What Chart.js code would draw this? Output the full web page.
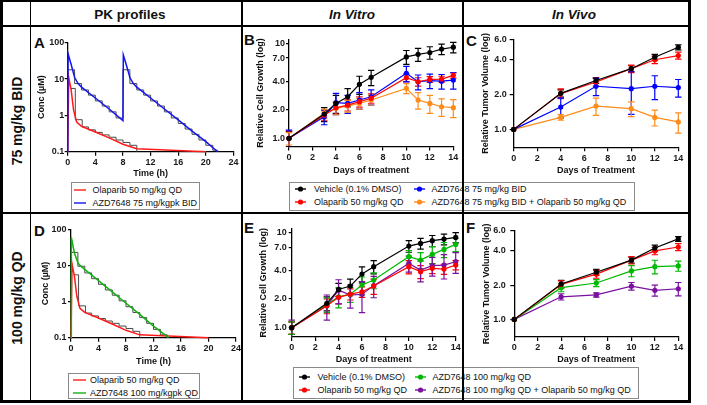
<!DOCTYPE html>
<html>
<head>
<meta charset="utf-8">
<script src="https://cdn.jsdelivr.net/npm/chart.js@4.4.0/dist/chart.umd.min.js"></script>
<style>
body { margin: 0; width: 707px; height: 405px; background: #fff; position: relative; overflow: hidden; font-family: Arial, "Liberation Sans", sans-serif; color: #111; }
canvas { position: absolute; }
.ln { position: absolute; background: #000; z-index: 5; }
.hdr { position: absolute; font-weight: bold; font-size: 13.5px; line-height: 14px; transform: translateX(-50%); white-space: nowrap; }
.rowlab { position: absolute; font-weight: bold; font-size: 14px; line-height: 16px; white-space: nowrap; transform: translate(-50%, -50%) rotate(-90deg); }
.lab { position: absolute; font-weight: bold; font-size: 15px; line-height: 15px; }
.leg { position: absolute; border: 1px solid #8a8a8a; box-sizing: border-box; background: #fff; }
.item { position: absolute; white-space: nowrap; font-size: 9px; line-height: 12px; }
</style>
</head>
<body>

<div class="hdr" style="left:130px;top:8px">PK profiles</div>
<div class="hdr" style="left:352px;top:7.5px;font-style:italic">In Vitro</div>
<div class="hdr" style="left:574px;top:7.5px;font-style:italic">In Vivo</div>
<div class="rowlab" style="left:17px;top:121px">75 mg/kg BID</div>
<div class="rowlab" style="left:17px;top:298px">100 mg/kg QD</div>

<div class="lab" style="left:34px;top:35px">A</div>
<div class="lab" style="left:244px;top:31.5px">B</div>
<div class="lab" style="left:466px;top:33px">C</div>
<div class="lab" style="left:34px;top:223px">D</div>
<div class="lab" style="left:244px;top:220px">E</div>
<div class="lab" style="left:466px;top:220px">F</div>

<canvas id="chartA"></canvas>
<canvas id="chartB"></canvas>
<canvas id="chartC"></canvas>
<canvas id="chartD"></canvas>
<canvas id="chartE"></canvas>
<canvas id="chartF"></canvas>

<div class="leg" style="left:71px;top:182px;width:129px;height:28px"></div>
<div class="leg" style="left:68px;top:373px;width:132px;height:26px"></div>
<div class="leg" style="left:289px;top:181.5px;width:346px;height:29px"></div>
<div class="leg" style="left:292.5px;top:367px;width:346px;height:32px"></div>

<!-- frame -->
<div class="ln" style="left:0;top:0;width:691px;height:2px"></div>
<div class="ln" style="left:0;top:400px;width:691px;height:3px"></div>
<div class="ln" style="left:0;top:0;width:2.5px;height:403px"></div>
<div class="ln" style="left:688px;top:0;width:3px;height:403px"></div>
<div class="ln" style="left:0;top:24.5px;width:691px;height:2px"></div>
<div class="ln" style="left:0;top:212px;width:691px;height:1.5px"></div>
<div class="ln" style="left:29.5px;top:0;width:1.5px;height:403px"></div>
<div class="ln" style="left:241px;top:0;width:1.5px;height:403px"></div>
<div class="ln" style="left:462px;top:0;width:1.5px;height:403px"></div>

<script>
// ---- PK profiles (conc in uM vs time in h)
const olaparibTime = [0, 0.15, 0.5, 0.85, 1.3, 2, 4, 6, 8, 10, 20];
const olaparibConc = [0.1, 11, 5, 1.4, 0.65, 0.5, 0.35, 0.24, 0.16, 0.12, 0.1];
const olaparibStepTime = [0.4, 1.1, 2.1, 3, 4, 5, 6, 7, 8, 9, 10];
const olaparibStepConc = [5.5, 0.76, 0.48, 0.4, 0.34, 0.29, 0.25, 0.21, 0.18, 0.15, 0.1];

const azd75Time = [0, 0.05, 0.5, 1, 1.5, 2, 4, 6, 8, 8.05, 8.5, 9, 9.5, 10, 12, 14, 16, 18, 20, 21.7];
const azd75Conc = [0.1, 50, 25, 11, 7.5, 6.0, 3.0, 1.5, 0.72, 46, 24, 11, 7.5, 6.0, 3.0, 1.5, 0.75, 0.37, 0.19, 0.1];
const azd75StepTime = [0, 1, 2, 3, 4, 5, 6, 7, 8, 9, 10, 11, 12, 13, 14, 15, 16, 17, 18, 19, 20, 21, 21.7];
const azd75StepConc = [18, 7.5, 5, 3.6, 2.5, 1.8, 1.25, 0.85, 18, 7.5, 5, 3.6, 2.5, 1.8, 1.25, 0.85, 0.6, 0.42, 0.3, 0.21, 0.15, 0.11, 0.1];

const azd100Time = [0, 0.05, 0.5, 1, 1.3, 2, 4, 6, 8, 10, 12, 14.2];
const azd100Conc = [0.1, 60, 22, 12, 10, 7.8, 3.8, 1.85, 0.9, 0.44, 0.21, 0.1];
const azd100StepTime = [0, 1, 2, 3, 4, 5, 6, 7, 8, 9, 10, 11, 12, 13, 14];
const azd100StepConc = [23, 9.5, 6.2, 4.3, 3.0, 2.1, 1.5, 1.05, 0.72, 0.5, 0.36, 0.25, 0.17, 0.12, 0.1];

const pkTicks = [0.1, 1, 10, 100];
const pkTickLabels = ['0.1', '1', '10', '100'];

// ---- In vitro (relative cell growth)
const daysVitro = [0, 3, 4, 5, 6, 7, 10, 11, 12, 13, 14];
const vitroB_vehicle  = [1.0, 1.8, 2.33, 2.74, 3.7, 4.39, 7.2, 7.66, 8.0, 8.7, 9.1];
const vitroB_olaparib = [1.0, 1.75, 2.1, 2.24, 2.43, 2.64, 4.35, 3.94, 4.17, 4.2, 4.6];
const vitroB_azd      = [1.0, 1.69, 2.37, 2.33, 2.53, 2.74, 4.83, 3.94, 4.04, 4.0, 4.1];
const vitroB_combo    = [1.0, 1.83, 2.07, 2.19, 2.33, 2.53, 3.36, 2.53, 2.33, 2.15, 2.1];
const errB_vehicle  = [0.18, 0.3, 0.5, 0.6, 0.8, 0.8, 1.2, 1.2, 1.2, 1.1, 1.15];
const errB_olaparib = [0.2, 0.2, 0.3, 0.3, 0.3, 0.3, 0.4, 0.4, 0.3, 0.3, 0.3];
const errB_azd      = [0.22, 0.3, 0.6, 0.5, 0.5, 0.5, 0.9, 0.7, 0.7, 0.7, 0.8];
const errB_combo    = [0.15, 0.2, 0.3, 0.3, 0.3, 0.3, 0.4, 0.5, 0.5, 0.45, 0.45];

const vitroE_vehicle  = [1.0, 1.8, 2.52, 2.73, 3.65, 4.36, 7.18, 7.66, 8.17, 8.5, 8.85];
const vitroE_olaparib = [1.0, 1.7, 2.08, 2.25, 2.38, 2.73, 4.36, 3.87, 4.19, 4.12, 4.54];
const vitroE_azd      = [1.0, 1.75, 2.11, 2.24, 2.8, 3.16, 5.55, 5.12, 5.87, 6.62, 7.47];
const vitroE_combo    = [1.0, 1.7, 2.48, 2.2, 2.24, 2.76, 4.72, 4.02, 4.47, 4.54, 4.92];
const errE_vehicle  = [0.15, 0.3, 0.4, 0.5, 0.7, 0.7, 1.0, 1.0, 1.1, 1.1, 1.1];
const errE_olaparib = [0.15, 0.3, 0.3, 0.3, 0.3, 0.5, 0.7, 0.6, 0.5, 0.5, 0.5];
const errE_azd      = [0.15, 0.3, 0.5, 0.4, 0.6, 0.6, 0.9, 1.0, 1.2, 1.2, 1.2];
const errE_combo    = [0.2, 0.5, 0.7, 0.6, 0.8, 0.7, 0.9, 1.0, 1.0, 1.3, 1.2];

const vitroTicks = [1, 2, 4, 7, 10];
const vitroTickLabels = ['1.0', '2.0', '4.0', '7.0', '10'];

// ---- In vivo (relative tumor volume)
const daysVivo = [0, 4, 7, 10, 12, 14];
const vivoC_vehicle  = [1.0, 2.05, 2.65, 3.35, 4.21, 5.13];
const vivoC_olaparib = [1.0, 2.04, 2.57, 3.35, 4.0, 4.35];
const vivoC_azd      = [1.0, 1.56, 2.36, 2.25, 2.36, 2.3];
const vivoC_combo    = [1.0, 1.27, 1.59, 1.51, 1.27, 1.16];
const errC_vehicle  = [0, 0.15, 0.15, 0.2, 0.25, 0.25];
const errC_olaparib = [0, 0.2, 0.2, 0.25, 0.3, 0.3];
const errC_azd      = [0, 0.3, 0.4, 0.9, 0.55, 0.4];
const errC_combo    = [0, 0.07, 0.27, 0.22, 0.2, 0.23];

const vivoF_vehicle  = [1.0, 2.05, 2.6, 3.32, 4.24, 5.1];
const vivoF_olaparib = [1.0, 2.03, 2.5, 3.32, 4.0, 4.33];
const vivoF_azd      = [1.0, 1.9, 2.09, 2.67, 2.91, 2.95];
const vivoF_combo    = [1.0, 1.58, 1.64, 1.96, 1.8, 1.86];
const errF_vehicle  = [0, 0.15, 0.15, 0.2, 0.25, 0.25];
const errF_olaparib = [0, 0.15, 0.2, 0.25, 0.3, 0.3];
const errF_azd      = [0, 0.15, 0.15, 0.3, 0.4, 0.3];
const errF_combo    = [0, 0.1, 0.07, 0.15, 0.2, 0.25];

const vivoTicks = [1, 2, 4, 6];
const vivoTickLabels = ['1.0', '2.0', '4.0', '6.0'];

const BLACK = '#000000', RED = '#ff0000', BLUE = '#0000ff', ORANGE = '#ff8c1a', GREEN = '#00b800', PURPLE = '#7a0fa0';
const PK_RED = '#ff1a1a', PK_BLUE = '#1414f0', PK_GREEN = '#12b012', STEP = '#4a4a4a';

const tickFont = { family: 'Arial, "Liberation Sans", sans-serif', size: 9, weight: 'bold', lineHeight: 1.2 };
const titleFont = { family: 'Arial, "Liberation Sans", sans-serif', size: 9, weight: 'bold', lineHeight: 1.2 };

function xy(xs, ys) {
    return xs.map((x, i) => ({ x: x, y: ys[i] }));
}

// error bars drawn through the chart's own scales
const errorBars = {
    id: 'errorBars',
    beforeDatasetsDraw(chart, args, opts) {
        if (!opts.sets) return;
        const ctx = chart.ctx;
        const sx = chart.scales.x, sy = chart.scales.y;
        ctx.save();
        opts.sets.forEach((err, i) => {
            if (!err) return;
            const ds = chart.data.datasets[i];
            ctx.strokeStyle = ds.borderColor;
            ctx.lineWidth = 1.2;
            ds.data.forEach((p, j) => {
                const e = err[j];
                if (!e) return;
                const x = sx.getPixelForValue(p.x);
                const yTop = sy.getPixelForValue(p.y + e);
                const yBot = sy.getPixelForValue(Math.max(p.y - e, sy.min));
                ctx.beginPath();
                ctx.moveTo(x, yTop); ctx.lineTo(x, yBot);
                ctx.moveTo(x - 3.2, yTop); ctx.lineTo(x + 3.2, yTop);
                if (p.y - e > sy.min) { ctx.moveTo(x - 3.2, yBot); ctx.lineTo(x + 3.2, yBot); }
                ctx.stroke();
            });
        });
        ctx.restore();
    }
};

function seriesSet(xs, list) {
    return list.map(s => ({
        data: xy(xs, s.v),
        borderColor: s.c,
        backgroundColor: s.c,
        borderWidth: 1.2,
        pointRadius: 2.6,
        pointBorderWidth: 0,
        pointBackgroundColor: s.c,
        clip: false
    }));
}

function pkSet(lines, steps) {
    const out = [];
    lines.forEach(s => out.push({ data: xy(s.t, s.v), borderColor: s.c, borderWidth: 1.5, pointRadius: 0, order: 0, clip: false }));
    steps.forEach(s => out.push({ data: xy(s.t, s.v), borderColor: STEP, borderWidth: 1, pointRadius: 0, stepped: true, order: 1, clip: false }));
    return out;
}

function buildChart(id, geo, cfg) {
    const cv = document.getElementById(id);
    const left = Math.round(geo.yTitleX - 5.4);
    const top = Math.round(geo.plot.t - 8);
    const right = Math.round(geo.plot.r + 8);
    const bottom = Math.round(geo.xTitleY + 5.4);
    cv.width = right - left;
    cv.height = bottom - top;
    cv.style.left = left + 'px';
    cv.style.top = top + 'px';
    cv.style.width = cv.width + 'px';
    cv.style.height = cv.height + 'px';
    const yW = geo.plot.l - left;
    const xH = bottom - geo.plot.b;

    new Chart(cv, {
        type: 'line',
        data: { datasets: cfg.datasets },
        options: {
            responsive: false,
            animation: false,
            devicePixelRatio: 1,
            layout: { padding: { top: geo.plot.t - top, right: right - geo.plot.r, left: 0, bottom: 0 } },
            plugins: { legend: { display: false }, tooltip: { enabled: false }, errorBars: { sets: cfg.errs } },
            scales: {
                x: {
                    type: 'linear', min: cfg.xMin, max: cfg.xMax,
                    afterFit: s => { s.height = xH; },
                    border: { color: '#000', width: 1.3 },
                    grid: { drawOnChartArea: false, color: '#000', lineWidth: 1.2, tickLength: 4 },
                    ticks: { stepSize: cfg.xStep, font: tickFont, color: '#1a1a1a', padding: 1.5, maxRotation: 0, autoSkip: false },
                    title: { display: true, text: cfg.xTitle, font: titleFont, color: '#111', padding: 0 }
                },
                y: {
                    type: 'logarithmic', min: cfg.yMin, max: cfg.yMax,
                    afterFit: s => { s.width = yW; },
                    afterBuildTicks: s => { s.ticks = cfg.yTicks.map(v => ({ value: v })); },
                    border: { color: '#000', width: 1.3 },
                    grid: { drawOnChartArea: false, color: '#000', lineWidth: 1.2, tickLength: geo.tl },
                    ticks: { font: tickFont, color: '#1a1a1a', padding: geo.tp, autoSkip: false,
                             callback: (v, i) => cfg.yLabels[i] },
                    title: { display: true, text: cfg.yTitle, font: titleFont, color: '#111', padding: 0 }
                }
            }
        },
        plugins: [errorBars]
    });
}

// A
buildChart('chartA', { plot: { l: 67.7, r: 233.5, t: 42.7, b: 151.7 }, yTitleX: 41.6, xTitleY: 173.5, tl: 3, tp: 0.5 }, {
    datasets: pkSet(
        [{ t: azd75Time, v: azd75Conc, c: PK_BLUE }, { t: olaparibTime, v: olaparibConc, c: PK_RED }],
        [{ t: azd75StepTime, v: azd75StepConc }, { t: olaparibStepTime, v: olaparibStepConc }]),
    xMin: 0, xMax: 24, xStep: 4, yMin: 0.1, yMax: 100, yTicks: pkTicks, yLabels: pkTickLabels,
    xTitle: 'Time (h)', yTitle: 'Conc (\u00b5M)'
});

// D
buildChart('chartD', { plot: { l: 71, r: 236, t: 229.3, b: 337.7 }, yTitleX: 45, xTitleY: 361.5, tl: 3, tp: 1.5 }, {
    datasets: pkSet(
        [{ t: azd100Time, v: azd100Conc, c: PK_GREEN }, { t: olaparibTime, v: olaparibConc, c: PK_RED }],
        [{ t: azd100StepTime, v: azd100StepConc }, { t: olaparibStepTime, v: olaparibStepConc }]),
    xMin: 0, xMax: 24, xStep: 4, yMin: 0.1, yMax: 100, yTicks: pkTicks, yLabels: pkTickLabels,
    xTitle: 'Time (h)', yTitle: 'Conc (\u00b5M)'
});

// B
buildChart('chartB', { plot: { l: 289, r: 453.3, t: 39.4, b: 146.5 }, yTitleX: 260, xTitleY: 170.5, tl: 3, tp: 1 }, {
    datasets: seriesSet(daysVitro, [
        { v: vitroB_vehicle, c: BLACK }, { v: vitroB_olaparib, c: RED },
        { v: vitroB_azd, c: BLUE }, { v: vitroB_combo, c: ORANGE }]),
    errs: [errB_vehicle, errB_olaparib, errB_azd, errB_combo],
    xMin: 0, xMax: 14, xStep: 2, yMin: 0.82, yMax: 11, yTicks: vitroTicks, yLabels: vitroTickLabels,
    xTitle: 'Days of treatment', yTitle: 'Relative Cell Growth (log)'
});

// E
buildChart('chartE', { plot: { l: 291.7, r: 455.7, t: 228.4, b: 336.9 }, yTitleX: 263.5, xTitleY: 360, tl: 3, tp: 2 }, {
    datasets: seriesSet(daysVitro, [
        { v: vitroE_vehicle, c: BLACK }, { v: vitroE_olaparib, c: RED },
        { v: vitroE_azd, c: GREEN }, { v: vitroE_combo, c: PURPLE }]),
    errs: [errE_vehicle, errE_olaparib, errE_azd, errE_combo],
    xMin: 0, xMax: 14, xStep: 2, yMin: 0.8, yMax: 11, yTicks: vitroTicks, yLabels: vitroTickLabels,
    xTitle: 'Days of treatment', yTitle: 'Relative Cell Growth (log)'
});

// C
buildChart('chartC', { plot: { l: 513.7, r: 678.3, t: 39.3, b: 147.3 }, yTitleX: 485.5, xTitleY: 170.5, tl: 4, tp: 3 }, {
    datasets: seriesSet(daysVivo, [
        { v: vivoC_vehicle, c: BLACK }, { v: vivoC_olaparib, c: RED },
        { v: vivoC_azd, c: BLUE }, { v: vivoC_combo, c: ORANGE }]),
    errs: [errC_vehicle, errC_olaparib, errC_azd, errC_combo],
    xMin: 0, xMax: 14, xStep: 2, yMin: 0.7, yMax: 6, yTicks: vivoTicks, yLabels: vivoTickLabels,
    xTitle: 'Days of Treatment', yTitle: 'Relative Tumor Volume (log)'
});

// F
buildChart('chartF', { plot: { l: 514.3, r: 678.3, t: 229, b: 337 }, yTitleX: 486, xTitleY: 360, tl: 4, tp: 4.5 }, {
    datasets: seriesSet(daysVivo, [
        { v: vivoF_vehicle, c: BLACK }, { v: vivoF_olaparib, c: RED },
        { v: vivoF_azd, c: GREEN }, { v: vivoF_combo, c: PURPLE }]),
    errs: [errF_vehicle, errF_olaparib, errF_azd, errF_combo],
    xMin: 0, xMax: 14, xStep: 2, yMin: 0.7, yMax: 6, yTicks: vivoTicks, yLabels: vivoTickLabels,
    xTitle: 'Days of Treatment', yTitle: 'Relative Tumor Volume (log)'
});

// legends
function legendItem(x1, x2, y, color, text, textX, dot) {
    const w = x2 - x1;
    const svg = '<svg width="' + w + '" height="8" style="position:absolute;left:' + x1 + 'px;top:' + (y - 4) + 'px">' +
        '<line x1="0" y1="4" x2="' + w + '" y2="4" stroke="' + color + '" stroke-width="1.4"/>' +
        (dot ? '<circle cx="' + (w / 2) + '" cy="4" r="2.6" fill="' + color + '"/>' : '') + '</svg>';
    const lab = '<div class="item" style="left:' + textX + 'px;top:' + (y - 6) + 'px">' + text + '</div>';
    document.body.insertAdjacentHTML('beforeend', svg + lab);
}

legendItem(74, 86, 190, PK_RED, 'Olaparib 50 mg/kg QD', 92.5, false);
legendItem(74, 86, 202.5, PK_BLUE, 'AZD7648 75 mg/kgpk BID', 92.5, false);

legendItem(72.5, 86, 380, PK_RED, 'Olaparib 50 mg/kg QD', 90, false);
legendItem(72.5, 86, 392.5, PK_GREEN, 'AZD7648 100 mg/kgpk QD', 90, false);

legendItem(295, 306, 189, BLACK, 'Vehicle (0.1% DMSO)', 314, true);
legendItem(295, 306, 201.5, RED, 'Olaparib 50 mg/kg QD', 314, true);
legendItem(414, 425, 189, BLUE, 'AZD7648 75 mg/kg BID', 431.5, true);
legendItem(414, 425, 201.5, ORANGE, 'AZD7648 75 mg/kg BID + Olaparib 50 mg/kg QD', 431.5, true);

legendItem(299, 310, 376.5, BLACK, 'Vehicle (0.1% DMSO)', 317.5, true);
legendItem(299, 310, 389.5, RED, 'Olaparib 50 mg/kg QD', 317.5, true);
legendItem(415, 426, 376.5, GREEN, 'AZD7648 100 mg/kg QD', 432.5, true);
legendItem(415, 426, 389.5, PURPLE, 'AZD7648 100 mg/kg QD + Olaparib 50 mg/kg QD', 432.5, true);
</script>
</body>
</html>
